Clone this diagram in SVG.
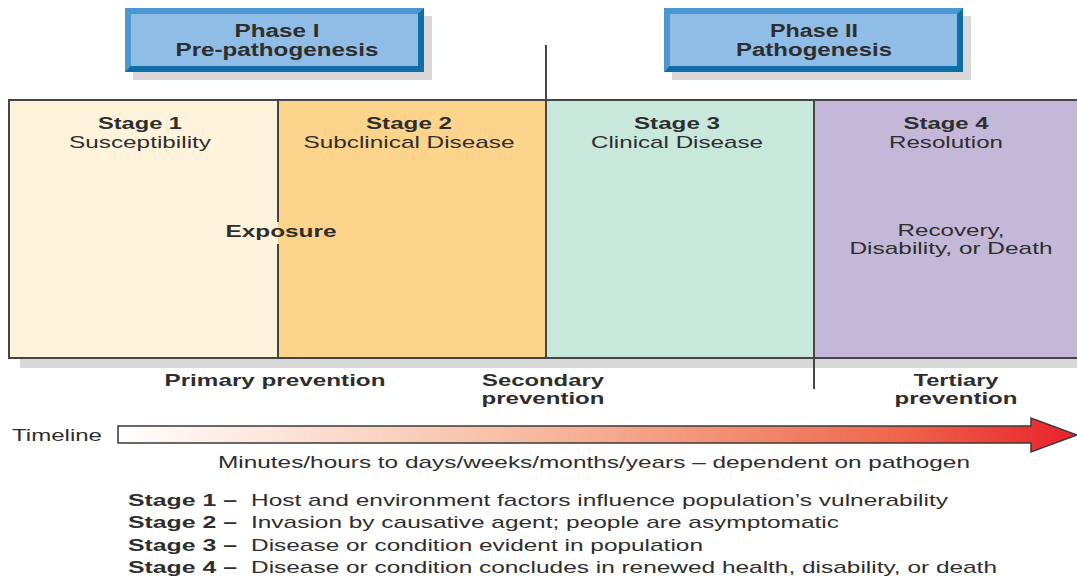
<svg xmlns="http://www.w3.org/2000/svg" width="1077" height="579" viewBox="0 0 1077 579">
<defs>
<linearGradient id="tl" x1="0" y1="0" x2="1" y2="0">
<stop offset="0" stop-color="#ffffff"/>
<stop offset="0.45" stop-color="#f6b79c"/>
<stop offset="0.8" stop-color="#ef6a4e"/>
<stop offset="1" stop-color="#e8222a"/>
</linearGradient>
</defs>
<style>
text{font-family:"Liberation Sans",Arial,sans-serif;fill:#2e2e2e;font-size:17px}
.b{font-weight:bold}
.c{text-anchor:middle}
.ph{font-size:18px;font-weight:bold;text-anchor:middle}
.bd{stroke:#454545;stroke-width:2;fill:none}
.sh{fill:#d9d9d9}
</style>
<rect width="1077" height="579" fill="#ffffff"/>

<g id="phase1">
<rect class="sh" x="133" y="16" width="299" height="64"/>
<rect x="125" y="8" width="299" height="64" fill="#0f6ea6"/>
<polygon points="125,8 424,8 418,14 418,66 131,66 125,72" fill="#4b97d2"/>
<rect x="131" y="14" width="287" height="52" fill="#8fbde6"/>
<text class="ph" x="277" y="37" textLength="85" lengthAdjust="spacingAndGlyphs">Phase I</text>
<text class="ph" x="277" y="56" textLength="203" lengthAdjust="spacingAndGlyphs">Pre-pathogenesis</text>
</g>

<g id="phase2">
<rect class="sh" x="672" y="16" width="299" height="64"/>
<rect x="664" y="8" width="299" height="64" fill="#0f6ea6"/>
<polygon points="664,8 963,8 957,14 957,66 670,66 664,72" fill="#4b97d2"/>
<rect x="670" y="14" width="287" height="52" fill="#8fbde6"/>
<text class="ph" x="814" y="37" textLength="88" lengthAdjust="spacingAndGlyphs">Phase II</text>
<text class="ph" x="814" y="56" textLength="156" lengthAdjust="spacingAndGlyphs">Pathogenesis</text>
</g>

<rect class="sh" x="20" y="358" width="1057" height="10"/>

<g id="stage1">
<rect x="9" y="100" width="269" height="258" fill="#fff4db"/>
<text class="b c" x="140" y="129" textLength="84" lengthAdjust="spacingAndGlyphs">Stage 1</text>
<text class="c" x="140" y="148" textLength="142" lengthAdjust="spacingAndGlyphs">Susceptibility</text>
</g>
<g id="stage2">
<rect x="278" y="100" width="268" height="258" fill="#fdd48b"/>
<text class="b c" x="409" y="129" textLength="86" lengthAdjust="spacingAndGlyphs">Stage 2</text>
<text class="c" x="409" y="148" textLength="211" lengthAdjust="spacingAndGlyphs">Subclinical Disease</text>
</g>
<g id="stage3">
<rect x="546" y="100" width="268" height="258" fill="#c8e8dc"/>
<text class="b c" x="677" y="129" textLength="86" lengthAdjust="spacingAndGlyphs">Stage 3</text>
<text class="c" x="677" y="148" textLength="172" lengthAdjust="spacingAndGlyphs">Clinical Disease</text>
</g>
<g id="stage4">
<rect x="814" y="100" width="263" height="258" fill="#c3b8d8"/>
<text class="b c" x="946" y="129" textLength="85" lengthAdjust="spacingAndGlyphs">Stage 4</text>
<text class="c" x="946" y="148" textLength="114" lengthAdjust="spacingAndGlyphs">Resolution</text>
<text class="c" x="951" y="236" textLength="107" lengthAdjust="spacingAndGlyphs">Recovery,</text>
<text class="c" x="951" y="254" textLength="203" lengthAdjust="spacingAndGlyphs">Disability, or Death</text>
</g>

<g id="connectors">
<path class="bd" d="M9,100 H1077 M9,358 H1077 M9,99 V359 M278,100 V222 M278,244 V358 M546,45 V358 M814,100 V389"/>
</g>

<g id="exposure">
<text class="b c" x="281" y="237" textLength="111" lengthAdjust="spacingAndGlyphs">Exposure</text>
</g>

<g id="prevention">
<text class="b c" x="275" y="386" textLength="221" lengthAdjust="spacingAndGlyphs">Primary prevention</text>
<text class="b c" x="543" y="386" textLength="122" lengthAdjust="spacingAndGlyphs">Secondary</text>
<text class="b c" x="543" y="404" textLength="123" lengthAdjust="spacingAndGlyphs">prevention</text>
<text class="b c" x="956" y="386" textLength="85" lengthAdjust="spacingAndGlyphs">Tertiary</text>
<text class="b c" x="956" y="404" textLength="123" lengthAdjust="spacingAndGlyphs">prevention</text>
</g>

<g id="timeline">
<text x="12" y="441" textLength="90" lengthAdjust="spacingAndGlyphs">Timeline</text>
<path d="M118,426 H1031 V418 L1077,435 L1031,452 V443 H118 Z" fill="url(#tl)" stroke="#3a3a3a" stroke-width="1.5" stroke-linejoin="miter"/>
<text class="c" x="594" y="468" textLength="752" lengthAdjust="spacingAndGlyphs">Minutes/hours to days/weeks/months/years – dependent on pathogen</text>
</g>

<g id="legend">
<text class="b" x="128" y="506" textLength="109" lengthAdjust="spacingAndGlyphs">Stage 1 –</text>
<text x="251" y="506" textLength="697" lengthAdjust="spacingAndGlyphs">Host and environment factors influence population’s vulnerability</text>
<text class="b" x="128" y="528" textLength="109" lengthAdjust="spacingAndGlyphs">Stage 2 –</text>
<text x="251" y="528" textLength="588" lengthAdjust="spacingAndGlyphs">Invasion by causative agent; people are asymptomatic</text>
<text class="b" x="128" y="551" textLength="109" lengthAdjust="spacingAndGlyphs">Stage 3 –</text>
<text x="251" y="551" textLength="452" lengthAdjust="spacingAndGlyphs">Disease or condition evident in population</text>
<text class="b" x="128" y="573" textLength="109" lengthAdjust="spacingAndGlyphs">Stage 4 –</text>
<text x="251" y="573" textLength="746" lengthAdjust="spacingAndGlyphs">Disease or condition concludes in renewed health, disability, or death</text>
</g>
</svg>
